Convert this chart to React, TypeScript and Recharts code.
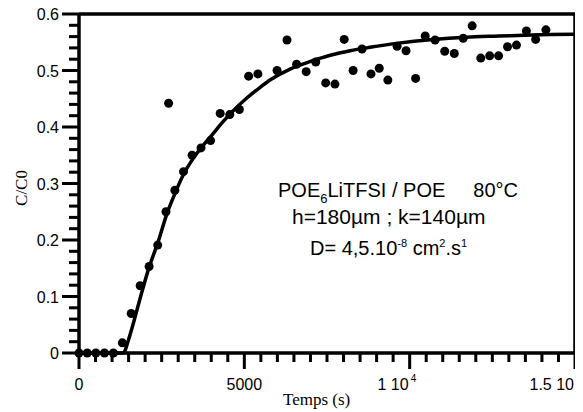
import { ComposedChart, XAxis, YAxis, Scatter, ReferenceLine } from 'recharts';

// measured C/C0 vs time (s)
const measuredT = [
  0, 250, 510, 770, 1040, 1310, 1580, 1850, 2120, 2380, 2630, 2710, 2900, 3160, 3420, 3690, 3980, 4270,
  4560, 4850, 5130, 5410, 5990, 6290, 6580, 6870, 7160, 7460, 7740, 8020, 8290, 8560, 8830, 9080, 9340,
  9620, 9890, 10180, 10470, 10770, 11060, 11350, 11620, 11890, 12150, 12420, 12690, 12960, 13230, 13530,
  13810, 14120,
];
const measuredC = [
  0, 0, 0, 0, 0, 0.018, 0.07, 0.119, 0.153, 0.191, 0.25, 0.442, 0.288, 0.321, 0.35, 0.363, 0.376, 0.424,
  0.422, 0.431, 0.49, 0.494, 0.5, 0.554, 0.511, 0.498, 0.515, 0.478, 0.476, 0.555, 0.5, 0.538, 0.494, 0.504,
  0.483, 0.543, 0.535, 0.486, 0.561, 0.554, 0.534, 0.53, 0.557, 0.579, 0.522, 0.526, 0.526, 0.542, 0.545,
  0.57, 0.555, 0.572,
];

// fitted diffusion curve
const fitT = [
  0, 1340, 1500, 1650, 1850, 2100, 2400, 2650, 2900, 3150, 3450, 3750, 4050, 4350, 4650, 5050, 5450, 5800,
  6400, 7000, 7600, 8200, 8800, 9600, 10700, 11700, 12700, 13700, 15000,
];
const fitC = [
  0, 0, 0.024, 0.054, 0.097, 0.148, 0.198, 0.245, 0.282, 0.315, 0.344, 0.367, 0.388, 0.409, 0.428, 0.45,
  0.469, 0.484, 0.503, 0.516, 0.527, 0.535, 0.541, 0.548, 0.555, 0.559, 0.561, 0.563, 0.564,
];

const xTicks = [
  0, 500, 1000, 1500, 2000, 2500, 3000, 3500, 4000, 4500, 5000, 5500, 6000, 6500, 7000, 7500, 8000, 8500,
  9000, 9500, 10000, 10500, 11000, 11500, 12000, 12500, 13000, 13500, 14000, 14500, 15000,
];
const xTickLabels: Record<number, string[]> = {
  0: ['0'],
  5000: ['5000'],
  10000: ['1 10', '4'],
  15000: ['1.5 10', '4'],
};
const yTicks = [
  0, 0.02, 0.04, 0.06, 0.08, 0.1, 0.12, 0.14, 0.16, 0.18, 0.2, 0.22, 0.24, 0.26, 0.28, 0.3, 0.32, 0.34, 0.36,
  0.38, 0.4, 0.42, 0.44, 0.46, 0.48, 0.5, 0.52, 0.54, 0.56, 0.58, 0.6,
];
const yTickLabels: Record<string, string> = {
  '0.00': '0', '0.10': '0.1', '0.20': '0.2', '0.30': '0.3', '0.40': '0.4', '0.50': '0.5', '0.60': '0.6',
};
// plot frame corners (domain limits)
const frameT = [0, 0, 15000, 15000, 0];
const frameC = [0.6, 0, 0, 0.6, 0.6];

const measured = measuredT.map((t, i) => ({ t, c: measuredC[i] }));
const fit = fitT.map((t, i) => ({ t, c: fitC[i] }));
const frame = frameT.map((t, i) => ({ t, c: frameC[i] }));
const xMarks = xTicks.map((t) => ({ t, c: 0 }));
const yMarks = yTicks.map((c) => ({ t: 0, c }));

const isMajorY = (v: number) => !!yTickLabels[Number(v).toFixed(2)];

function XTick(props: any) {
  const x = Number(props.x);
  const y = Number(props.y);
  const lab = xTickLabels[props.payload.value];
  if (!lab) return <g />;
  return (
    <g>
      {lab.length === 1 && (
        <text x={x} y={y + 37} textAnchor="middle" fontSize={16} fill="#000">
          {lab[0]}
        </text>
      )}
      {lab.length === 2 && (
        <text x={x - 1} y={y + 37} textAnchor="end" fontSize={16} fill="#000">
          {lab[0]}
        </text>
      )}
      {lab.length === 2 && (
        <text x={x + 1} y={y + 29} textAnchor="start" fontSize={10} fill="#000">
          {lab[1]}
        </text>
      )}
    </g>
  );
}

function YTick(props: any) {
  const x = Number(props.x);
  const y = Number(props.y);
  const lab = yTickLabels[Number(props.payload.value).toFixed(2)];
  if (!lab) return <g />;
  return (
    <text x={x - 20} y={y + 6} textAnchor="end" fontSize={16} fill="#000">
      {lab}
    </text>
  );
}

// tick marks, placed through the chart scales
function XMark(p: any) {
  const len = xTickLabels[p.payload.t] ? 16 : 9;
  return <rect x={p.cx - 1.5} y={p.cy} width={3} height={len} fill="#000" />;
}

function YMark(p: any) {
  const len = isMajorY(p.payload.c) ? 17 : 10;
  return <rect x={p.cx - len} y={p.cy - 1.5} width={len} height={3} fill="#000" />;
}

// axis titles, drawn as the x axis label
function Titles() {
  return (
    <g fill="#000">
      <text transform="translate(18.6,180) rotate(-90)" textAnchor="middle" fontSize={17} fontFamily="Liberation Serif">
        C/C0
      </text>
      <text x={275} y={397} fontSize={17} fontFamily="Liberation Serif">
        Temps (s)
      </text>
    </g>
  );
}

// annotation block, drawn as the y axis label
function Notes() {
  return (
    <g fill="#000">
      <text x={270} y={189} fontSize={20}>
        POE
        <tspan fontSize={13} dy={6}>6</tspan>
        <tspan dy={-6}>LiTFSI / POE</tspan>
      </text>
      <text x={510} y={189} fontSize={20} textAnchor="end">
        {'80\u00b0C'}
      </text>
      <text x={284} y={216} fontSize={21}>
        {'h=180\u00b5m ; k=140\u00b5m'}
      </text>
      <text x={302} y={247} fontSize={20}>
        D= 4,5.10
        <tspan fontSize={11} dy={-8}>-8</tspan>
        <tspan dy={8}> cm</tspan>
        <tspan fontSize={11} dy={-8}>2</tspan>
        <tspan dy={8}>.s</tspan>
        <tspan fontSize={11} dy={-8}>1</tspan>
      </text>
    </g>
  );
}

export default function App() {
  return (
    <div style={{ width: 575, height: 404, fontFamily: 'Liberation Sans, Arial, sans-serif' }}>
      <ComposedChart width={575} height={404} margin={{ top: 6, right: 8, bottom: 0, left: 0 }}>
        <XAxis
          type="number"
          dataKey="t"
          domain={[0, 15000]}
          ticks={xTicks}
          interval={0}
          height={59}
          tickSize={0}
          tickMargin={0}
          axisLine={{ stroke: '#000', strokeWidth: 3 }}
          tick={<XTick />}
          label={<Titles />}
        />
        <YAxis
          type="number"
          dataKey="c"
          domain={[0, 0.6]}
          ticks={yTicks}
          interval={0}
          width={71}
          tickSize={0}
          tickMargin={0}
          axisLine={{ stroke: '#000', strokeWidth: 3 }}
          tick={<YTick />}
          label={<Notes />}
        />
        <ReferenceLine y={0.6} stroke="#000" strokeWidth={3} ifOverflow="visible" />
        <ReferenceLine x={15000} stroke="#000" strokeWidth={3} ifOverflow="visible" />
        <Scatter
          data={frame}
          dataKey="c"
          line={{ stroke: '#000', strokeWidth: 3 }}
          lineJointType="linear"
          shape={() => <g />}
          isAnimationActive={false}
        />
        <Scatter data={xMarks} dataKey="c" shape={XMark} isAnimationActive={false} />
        <Scatter data={yMarks} dataKey="c" shape={YMark} isAnimationActive={false} />
        <Scatter
          data={fit}
          dataKey="c"
          line={{ stroke: '#000', strokeWidth: 3.5 }}
          lineJointType="monotoneX"
          shape={() => <g />}
          isAnimationActive={false}
        />
        <Scatter
          data={measured}
          dataKey="c"
          fill="#000"
          isAnimationActive={false}
          shape={(p: any) => <circle cx={p.cx} cy={p.cy} r={4.5} fill="#000" />}
        />
      </ComposedChart>
    </div>
  );
}
